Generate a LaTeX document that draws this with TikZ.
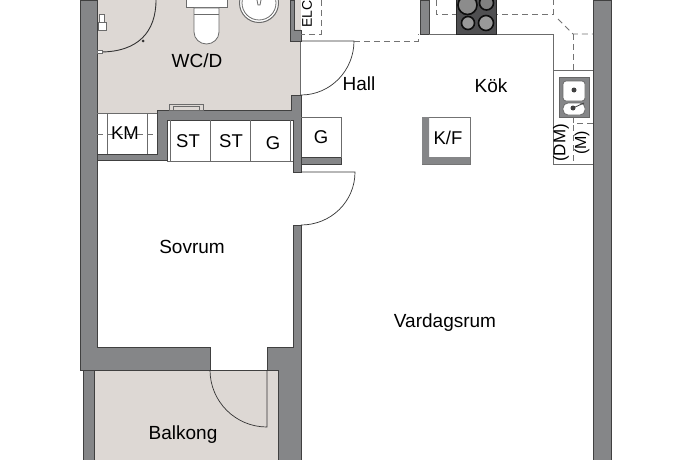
\documentclass[tikz,border=0pt]{standalone}
\usepackage{fontspec}
\setmainfont{Liberation Sans}
\usepackage{tikz}
\definecolor{wallgray}{HTML}{858688}
\definecolor{floorgray}{HTML}{DDD8D4}
\definecolor{stovegray}{HTML}{4F4F51}
\begin{document}
\begin{tikzpicture}[x=1pt,y=-1pt]
\tikzstyle{room}=[font=\fontsize{19}{22}\selectfont,inner sep=0pt]
\tikzstyle{unit}=[font=\fontsize{18.5}{22}\selectfont,inner sep=0pt]
\tikzstyle{wall}=[fill=wallgray,draw=black!75,line width=.5pt]
\tikzstyle{floorarea}=[fill=floorgray,draw=none]
\tikzstyle{fitting}=[draw=black!58,line width=.8pt]
\tikzstyle{dashline}=[draw=black!55,line width=.8pt,dash pattern=on 6pt off 4pt]
\tikzstyle{swing}=[draw=black!80,line width=.7pt]
\tikzstyle{burner}=[circle,draw=black!95,line width=1.6pt,inner sep=0pt]
\useasboundingbox (0,0) rectangle (690,460);
    \fill[white] (0,0) rectangle (690,460);
    \draw[floorarea] (97,0) rectangle (301,110);
    \draw[floorarea] (97,110) rectangle (157,113);
    \draw[floorarea] (94,370) rectangle (278,460);
    \draw[fitting] (300.5,41) -- (300.5,95);
    \draw[wall] (80,0) -- (97,0) -- (97,347) -- (210,347) -- (210,370) -- (80,370) -- cycle;
    \draw[wall] (83,370) rectangle (94,460);
    \draw[wall] (267,370) -- (267,347) -- (293,347) -- (293,225) -- (301,225) -- (301,460) -- (278,460) -- (278,370) -- cycle;
    \draw[wall] (593,0) rectangle (611,460);
    \draw[wall] (290.5,0) -- (294,0) -- (294,30) -- (301,30) -- (301,41) -- (290.5,41) -- cycle;
    \draw[wall] (291,95) -- (301,95) -- (301,172) -- (293,172) -- (293,120) -- (167,120) -- (167,160) -- (97,160) -- (97,154) -- (157,154) -- (157,110) -- (291,110) -- cycle;
    \draw[wall] (301,157.5) rectangle (341,164.5);
    \draw[wall] (420,0) rectangle (429,34);
    \draw[black!75,line width=.6pt] (94,370) -- (278,370);
    \draw[fitting] (97,113) -- (157,113);
    \draw[fitting] (107,113) -- (107,154);
    \draw[fitting] (147,113) -- (147,154);
    \draw[dashline] (97,134) -- (157,134);
    \draw[fitting] (167,161) -- (293,161);
    \draw[fitting] (170,120) -- (170,161);
    \draw[fitting] (210,120) -- (210,161);
    \draw[fitting] (250,120) -- (250,161);
    \draw[fitting] (290,120) -- (290,161);
    \draw[fitting] (301,117) -- (341,117) -- (341,158);
    \draw[fitting] (169,104) rectangle (203,110);
    \draw[fitting] (173,106.5) rectangle (199,110);
    \draw[fitting,fill=white] (186,-1) rectangle (227,7);
    \draw[fitting,fill=white] (194,8) -- (219,8) -- (219,32) .. controls (219,39) and (213,44) .. (206.5,44) .. controls (200,44) and (194,39) .. (194,32) -- cycle;
    \draw[fitting] (194,14) -- (219,14);
    \draw[fitting,fill=white,line width=1pt] (259,3) circle (19.5);
    \draw[fitting] (259,3) circle (17);
    \draw[fitting] (257,0) -- (258,5) -- (260,5) -- (261,0);
    \draw[swing,line width=.9pt] (156,0) .. controls (156,32) and (138,52) .. (100,52);
    \draw[fitting,fill=white] (97,50.5) rectangle (102,53.5);
    \fill[black!80] (143,41) circle (1.5);
    \draw[fitting,fill=white] (99,14) rectangle (104,22);
    \draw[fitting,fill=white] (98,22) rectangle (106,30);
    \draw[dashline] (321,0) -- (321,34) -- (301,34);
    \draw[swing] (301,41) -- (354,41) .. controls (354,70.5) and (330.5,95) .. (301,95);
    \draw[swing] (301,172) -- (355,172) .. controls (355,201.5) and (331,225) .. (301,225);
    \draw[swing] (267,370) -- (267,427) .. controls (235.5,427) and (210,401.5) .. (210,370);
    \draw[dashline] (354,41) -- (418,41) -- (418,34);
    \draw[fitting] (429,34) -- (553,34) -- (553,164) -- (593,164);
    \draw[fitting] (553,70) -- (593,70);
    \draw[dashline] (436,0) -- (436,14) -- (553,14) -- (553,0);
    \draw[dashline] (558,19) -- (573,34) -- (593,34);
    \draw[dashline] (573,34) -- (573,70);
    \draw[dashline] (573,117) -- (573,123) -- (593,123);
    \draw[dashline] (573,125) -- (573,164);
    \draw[draw=black!85,fill=stovegray,line width=.4pt] (456,-1) rectangle (496,34);
    \node[burner,minimum size=19pt,fill=black!45] (b1) at (467.5,5) {};
    \node[burner,minimum size=14pt,fill=black!50] (b2) at (486.5,3) {};
    \node[burner,minimum size=13pt,fill=black!40] (b3) at (468,23) {};
    \node[burner,minimum size=15pt,fill=black!40] (b4) at (486,23) {};
    \draw[fill=wallgray,draw=black!60,line width=.5pt] (559,77) rectangle (589,117);
    \draw[fitting,fill=white,rounded corners=3pt] (563,81) rectangle (585,101);
    \draw[fitting,fill=white,rounded corners=5pt] (563,103) rectangle (585,115);
    \fill[black!75] (574,90) circle (2.5);
    \fill[black!75] (573,108) circle (2.5);
    \draw[black!75,line width=.8pt] (573,108) -- (584,103);
    \draw[fill=white,draw=black!55,line width=.6pt] (422,117) rectangle (470,164);
    \draw[fill=wallgray,draw=none] (422,117) -- (429,117) -- (429,157) -- (470,157) -- (470,164) -- (422,164) -- cycle;
    \node[room] (wcd) at (197,61) {WC/D};
    \node[room] (hall) at (359,84) {Hall};
    \node[room] (kok) at (491,86) {Kök};
    \node[room] (sovrum) at (192,246.5) {Sovrum};
    \node[room] (vardagsrum) at (445,322.5) {Vardagsrum};
    \node[room] (balkong) at (183,434.5) {Balkong};
    \node[unit] (km) at (125,133) {KM};
    \node[unit] (st1) at (188,141) {ST};
    \node[unit] (st2) at (231,141) {ST};
    \node[unit] (g1) at (273,143) {G};
    \node[unit] (g2) at (321,137) {G};
    \node[unit] (kf) at (448,138) {K/F};
    \node[unit,font=\fontsize{14}{16}\selectfont,rotate=90] (elc) at (307,14) {ELC};
    \node[unit,font=\fontsize{17}{20}\selectfont,rotate=90] (dm) at (561,143) {(DM)};
    \node[unit,font=\fontsize{16}{18}\selectfont,rotate=90] (m) at (582,143) {(M)};
\end{tikzpicture}
\end{document}
